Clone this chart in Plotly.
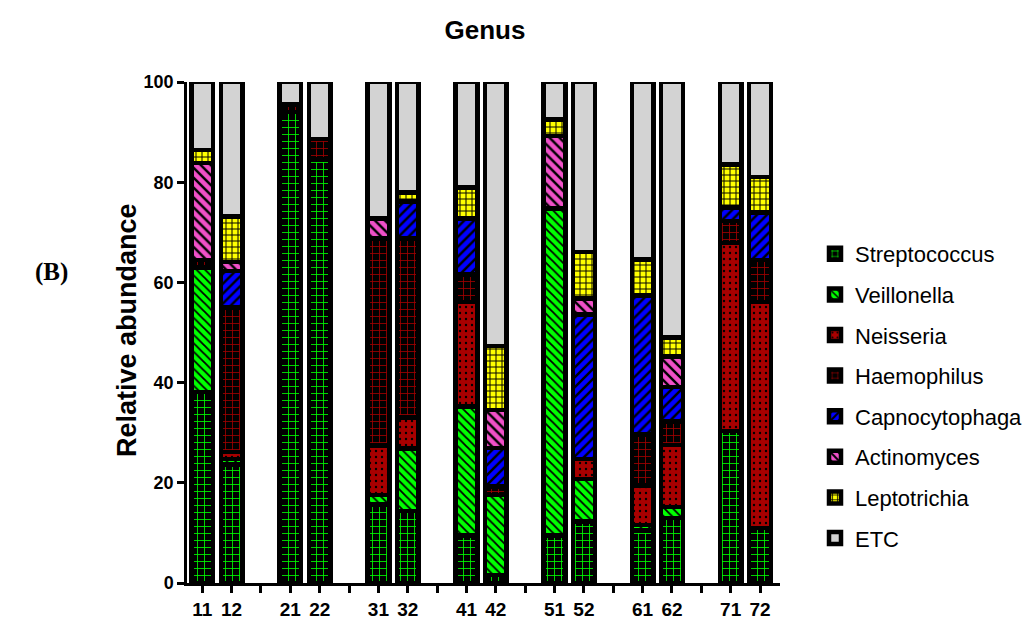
import plotly.graph_objects as go

# Sample labels, two per site, one empty slot between sites
samples = ["11", "12", "21", "22", "31", "32", "41", "42",
           "51", "52", "61", "62", "71", "72"]

# Relative abundance (%) per genus, bottom of stack first
streptococcus = [38.1, 23.7, 94.0, 84.5, 15.7, 14.4, 9.5, 1.6, 9.5, 12.3, 10.5, 13.0, 30.3, 11.0]
veillonella = [24.9, 1.1, 0, 0, 1.9, 12.4, 25.7, 16.0, 65.3, 8.5, 1.1, 2.2, 0, 0]
neisseria = [0, 1.3, 0, 0, 9.8, 6.2, 20.9, 0, 0, 4.0, 7.9, 12.3, 37.6, 45.1]
haemophilus = [1.5, 28.9, 1.5, 4.1, 41.4, 35.8, 5.5, 1.7, 0, 0, 10.1, 4.7, 4.4, 8.4]
capnocytophaga = [0, 7.3, 0, 0, 0, 7.3, 11.2, 7.6, 0, 28.8, 27.8, 6.9, 2.7, 9.5]
actinomyces = [19.3, 1.8, 0, 0, 4.0, 0, 0, 7.6, 14.4, 3.2, 0, 6.1, 0, 0]
leptotrichia = [2.6, 9.1, 0, 0, 0, 1.8, 6.1, 12.8, 3.3, 9.3, 7.2, 3.8, 8.5, 7.0]
etc = [13.6, 26.8, 4.5, 11.4, 27.2, 22.1, 21.1, 52.7, 7.5, 33.9, 35.4, 51.0, 16.5, 19.0]

y_ticks = [0, 20, 40, 60, 80, 100]

# slot index on the x axis: pairs separated by an empty slot
positions = [(i // 2) * 3 + (i % 2) for i in range(len(samples))]
n_slots = positions[-1] + 1
slot_labels = [""] * n_slots
for p, s in zip(positions, samples):
    slot_labels[p] = s

series = [
    ("Streptococcus", streptococcus, dict(bgcolor="#000000", fgcolor="#00FF00", shape="+", size=7, solidity=0.22)),
    ("Veillonella", veillonella, dict(bgcolor="#00FF00", fgcolor="#000000", shape="\\", size=6, solidity=0.3)),
    ("Neisseria", neisseria, dict(bgcolor="#A80000", fgcolor="#000000", shape=".", size=6, solidity=0.12)),
    ("Haemophilus", haemophilus, dict(bgcolor="#000000", fgcolor="#A00000", shape="+", size=7, solidity=0.22)),
    ("Capnocytophaga", capnocytophaga, dict(bgcolor="#0000FF", fgcolor="#000000", shape="/", size=7, solidity=0.35)),
    ("Actinomyces", actinomyces, dict(bgcolor="#F050C8", fgcolor="#000000", shape="\\", size=7, solidity=0.35)),
    ("Leptotrichia", leptotrichia, dict(bgcolor="#FFFF00", fgcolor="#000000", shape="+", size=6, solidity=0.3)),
    ("ETC", etc, None),
]

sans = "Liberation Sans, Arial, sans-serif"

fig = go.Figure()
for name, vals, pat in series:
    marker = dict(line=dict(color="#000000", width=4.5))
    if pat is None:
        marker["color"] = "#D3D3D3"
    else:
        marker["color"] = pat["bgcolor"]
        marker["pattern"] = dict(fillmode="replace", **pat)
    fig.add_trace(go.Bar(
        x=positions, y=vals, name=name, width=0.74,
        marker=marker, legendgroup=name,
    ))

plot_l, plot_r, plot_t, plot_b = 187, 249, 82, 38
plot_w = 1029 - plot_l - plot_r
plot_h = 621 - plot_t - plot_b

fig.update_layout(
    width=1029, height=621,
    barmode="stack",
    plot_bgcolor="white", paper_bgcolor="white",
    margin=dict(l=plot_l, r=plot_r, t=plot_t, b=plot_b, autoexpand=False),
    showlegend=True,
    legend=dict(
        x=(815 - plot_l) / plot_w, y=(583 - 233) / plot_h,
        xanchor="left", yanchor="top",
        traceorder="grouped", tracegroupgap=9,
        font=dict(family=sans, size=22, color="#000000"),
        bgcolor="rgba(0,0,0,0)",
    ),
    title=dict(
        text="Genus", x=0.5025, xanchor="center", y=0.952, yanchor="middle",
        xref="paper", yref="container",
        font=dict(family=sans, size=26, color="#000000", weight="bold"),
    ),
)

fig.update_xaxes(
    range=[-0.52, n_slots - 1 + 0.68],
    tickmode="array", tickvals=list(range(n_slots)), ticktext=slot_labels,
    ticks="outside", ticklen=7, tickwidth=2.5, tickcolor="#000000",
    showline=True, linewidth=2.5, linecolor="#000000",
    showgrid=False, zeroline=False,
    tickfont=dict(family=sans, size=19, color="#000000", weight="bold"),
)
fig.update_yaxes(
    range=[0, 100],
    tickmode="array", tickvals=y_ticks, ticktext=[str(v) for v in y_ticks],
    ticks="outside", ticklen=7, tickwidth=2.5, tickcolor="#000000",
    showline=True, linewidth=2.5, linecolor="#000000",
    showgrid=False, zeroline=False,
    tickfont=dict(family=sans, size=18, color="#000000", weight="bold"),
)

fig.add_annotation(
    text="Relative abundance", textangle=-90,
    x=(127 - plot_l) / plot_w, y=(583 - 330) / plot_h, xref="paper", yref="paper",
    xanchor="center", yanchor="middle", showarrow=False,
    font=dict(family=sans, size=27, color="#000000", weight="bold"),
)
fig.add_annotation(
    text="(B)", x=(33 - plot_l) / plot_w, y=(583 - 272) / plot_h,
    xref="paper", yref="paper", showarrow=False,
    font=dict(family="Liberation Serif, Times New Roman, serif", size=25, color="#000000", weight="bold"),
)

fig.write_html("out.html")
